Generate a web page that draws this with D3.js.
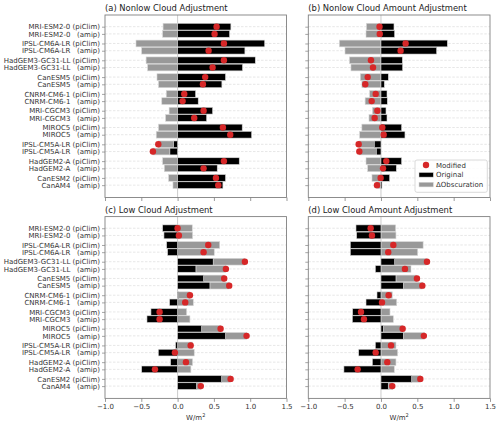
<!DOCTYPE html>
<html><head><meta charset="utf-8">
<script src="https://cdn.jsdelivr.net/npm/d3@7"></script>
<style>
body{margin:0;background:#fff;}
svg text{font-family:"DejaVu Sans",sans-serif;}
</style></head>
<body><svg id="chart" width="500" height="424"></svg>
<script>
const rowLabels = ["MRI-ESM2-0 (piClim)", "MRI-ESM2-0   (amip)", "IPSL-CM6A-LR (piClim)", "IPSL-CM6A-LR   (amip)",
  "HadGEM3-GC31-LL (piClim)", "HadGEM3-GC31-LL   (amip)", "CanESM5 (piClim)", "CanESM5   (amip)",
  "CNRM-CM6-1 (piClim)", "CNRM-CM6-1   (amip)", "MRI-CGCM3 (piClim)", "MRI-CGCM3   (amip)",
  "MIROC5 (piClim)", "MIROC5   (amip)", "IPSL-CM5A-LR (piClim)", "IPSL-CM5A-LR   (amip)",
  "HadGEM2-A (piClim)", "HadGEM2-A   (amip)", "CanESM2 (piClim)", "CanAM4   (amip)"];

const xTicks = [-1.0, -0.5, 0.0, 0.5, 1.0, 1.5];

// Nonlow cloud (panels a, b)
const deltaNonlow = [-0.200, -0.206, -0.573, -0.495, -0.434, -0.413, -0.284, -0.263, -0.156, -0.218,
  -0.117, -0.165, -0.263, -0.294, -0.212, -0.234, -0.206, -0.183, -0.124, -0.064];
const origA = [0.734, 0.716, 1.20, 0.927, 1.07, 0.894, 0.66, 0.61, 0.248, 0.284,
  0.482, 0.40, 0.89, 1.02, -0.055, -0.106, 0.849, 0.546, 0.66, 0.624];
const modA = [0.537, 0.509, 0.638, 0.427, 0.638, 0.482, 0.38, 0.349, 0.092, 0.069,
  0.358, 0.229, 0.624, 0.725, -0.266, -0.34, 0.638, 0.358, 0.528, 0.56];
const origB = [0.179, 0.188, 0.913, 0.766, 0.294, 0.298, 0.101, 0.046, 0.083, 0.087,
  0.069, 0.083, 0.284, 0.33, -0.092, -0.064, 0.284, 0.211, 0.119, 0.014];
const modB = [-0.02, -0.017, 0.339, 0.27, -0.138, -0.11, -0.183, -0.216, -0.073, -0.128,
  -0.05, -0.087, 0.018, 0.037, -0.307, -0.298, 0.073, 0.028, -0.005, -0.055];

// Low cloud (panels c, d)
const deltaLow = [0.202, 0.206, 0.58, 0.505, 0.437, 0.413, 0.284, 0.266, 0.156, 0.216,
  0.124, 0.17, 0.262, 0.294, 0.206, 0.229, 0.206, 0.183, 0.124, 0.064];
const origC = [-0.206, -0.188, -0.151, -0.138, 0.49, 0.252, 0.358, 0.445, 0.014, -0.11,
  -0.367, -0.422, 0.33, 0.66, -0.028, -0.266, -0.096, -0.495, 0.606, 0.26];
const modC = [0.0, 0.018, 0.422, 0.358, 0.927, 0.665, 0.642, 0.711, 0.17, 0.105,
  -0.248, -0.248, 0.592, 0.95, 0.18, -0.037, 0.115, -0.312, 0.73, 0.32];
const origD = [-0.344, -0.335, -0.422, -0.422, 0.188, -0.078, 0.206, 0.307, -0.055, -0.206,
  -0.39, -0.394, 0.032, 0.307, -0.078, -0.307, -0.119, -0.51, 0.422, 0.1];
const modD = [-0.142, -0.124, 0.17, 0.1, 0.633, 0.33, 0.495, 0.569, 0.105, 0.014,
  -0.275, -0.234, 0.298, 0.59, 0.138, -0.073, 0.087, -0.321, 0.541, 0.156];

const panels = [
  {title:"(a) Nonlow Cloud Adjustment", orig:origA, delta:deltaNonlow, mod:modA, col:0, row:0},
  {title:"(b) Nonlow Cloud Amount Adjustment", orig:origB, delta:deltaNonlow, mod:modB, col:1, row:0, legend:true},
  {title:"(c) Low Cloud Adjustment", orig:origC, delta:deltaLow, mod:modC, col:0, row:1},
  {title:"(d) Low Cloud Amount Adjustment", orig:origD, delta:deltaLow, mod:modD, col:1, row:1}
];

const svg = d3.select("#chart");
const colX = [[105, 286.5], [308.3, 490]];
const rowY = [[15, 197.5], [216.6, 398.4]];
const RED = "#d62728", GRAY = "#999999";

function rowPos(i){ return Math.floor(i/2) + (i % 2 === 0 ? -0.215 : 0.215); }

panels.forEach(p => {
  const [x0, x1] = colX[p.col], [y0, y1] = rowY[p.row];
  const x = d3.scaleLinear().domain([-1, 1.5]).range([x0, x1]);
  const y = d3.scaleLinear().domain([-0.91, 9.95]).range([y0, y1]);
  const bh = y(0.4) - y(0);
  const g = svg.append("g");

  // gridlines
  g.selectAll(".grid").data(rowLabels).join("line")
    .attr("x1", x0).attr("x2", x1)
    .attr("y1", (d,i)=>y(rowPos(i))).attr("y2", (d,i)=>y(rowPos(i)))
    .attr("stroke", "#dcdcdc").attr("stroke-width", 0.7).attr("stroke-dasharray", "2.5,1.5");
  g.append("line").attr("x1", x(0)).attr("x2", x(0)).attr("y1", y0).attr("y2", y1)
    .attr("stroke", "#cccccc").attr("stroke-width", 1);

  const data = rowLabels.map((l,i)=>({i, o:p.orig[i], d:p.delta[i], m:p.mod[i]}));
  // delta bars (stacked onto original if same sign)
  g.selectAll(".dbar").data(data).join("rect")
    .attr("x", d => { const s = (Math.sign(d.o) === Math.sign(d.d)) ? d.o : 0; return Math.min(x(s), x(s + d.d)); })
    .attr("width", d => Math.abs(x(d.d) - x(0)))
    .attr("y", d => y(rowPos(d.i)) - bh/2).attr("height", bh)
    .attr("fill", GRAY).attr("stroke", "#d8d8d8").attr("stroke-width", 0.6);
  // original bars
  g.selectAll(".obar").data(data).join("rect")
    .attr("x", d => Math.min(x(0), x(d.o)))
    .attr("width", d => Math.abs(x(d.o) - x(0)))
    .attr("y", d => y(rowPos(d.i)) - bh/2).attr("height", bh)
    .attr("fill", "#000").attr("stroke", "#d8d8d8").attr("stroke-width", 0.6);
  // modified dots
  g.selectAll(".dot").data(data).join("circle")
    .attr("cx", d => x(d.m)).attr("cy", d => y(rowPos(d.i))).attr("r", 3.2)
    .attr("fill", RED);

  // frame
  g.append("rect").attr("x", x0).attr("y", y0).attr("width", x1-x0).attr("height", y1-y0)
    .attr("fill", "none").attr("stroke", "#808080").attr("stroke-width", 0.9);

  // x axis
  const xa = d3.axisBottom(x).tickValues(xTicks).tickSize(3.5).tickPadding(2)
    .tickFormat(p.row === 1 ? (v => d3.format(".1f")(v).replace("-", "\u2212")) : "");
  const xg = g.append("g").attr("transform", `translate(0,${y1})`).call(xa);
  xg.select(".domain").remove();
  xg.selectAll("line").attr("stroke", "#808080").attr("stroke-width", 0.8);
  xg.selectAll("text").attr("font-size", 7).attr("fill", "#333").attr("font-family", "DejaVu Sans");

  // y axis
  const ya = d3.axisLeft(y).tickValues(rowLabels.map((l,i)=>rowPos(i))).tickSize(3)
    .tickPadding(2).tickFormat((v,i) => p.col === 0 ? rowLabels[i] : "");
  const yg = g.append("g").attr("transform", `translate(${x0},0)`).call(ya);
  yg.select(".domain").remove();
  yg.selectAll("line").attr("stroke", "#808080").attr("stroke-width", 0.7);
  yg.selectAll("text").attr("font-size", 7).attr("fill", "#333")
    .attr("font-family", "DejaVu Sans").style("white-space", "pre");

  // title
  g.append("text").attr("x", x0).attr("y", y0 - 3.8).attr("font-size", 8.4).attr("fill", "#222")
    .text(p.title);

  if (p.row === 1) {
    const t = g.append("text").attr("x", (x0+x1)/2).attr("y", 420).attr("text-anchor", "middle")
      .attr("font-size", 7).attr("fill", "#333");
    t.append("tspan").text("W/m");
    t.append("tspan").attr("font-size", 5).attr("dy", -3).text("2");
  }

  if (p.legend) {
    const lg = g.append("g").attr("transform", "translate(415,160)");
    lg.append("rect").attr("width", 72.3).attr("height", 32.3).attr("rx", 2)
      .attr("fill", "#fff").attr("fill-opacity", 0.85).attr("stroke", "#d0d0d0").attr("stroke-width", 0.8);
    const items = [["Modified", "dot"], ["Original", "#000"], ["\u0394Obscuration", GRAY]];
    items.forEach((it, k) => {
      const cy = 5 + k * 9.8;
      if (it[1] === "dot") lg.append("circle").attr("cx", 11).attr("cy", cy).attr("r", 3.2).attr("fill", RED);
      else lg.append("rect").attr("x", 4).attr("y", cy - 2.3).attr("width", 14.3).attr("height", 4.6)
        .attr("fill", it[1]).attr("stroke", "#d8d8d8").attr("stroke-width", 0.5);
      lg.append("text").attr("x", 21).attr("y", cy + 2.5).attr("font-size", 7).attr("fill", "#333").text(it[0]);
    });
  }
});
</script></body></html>
